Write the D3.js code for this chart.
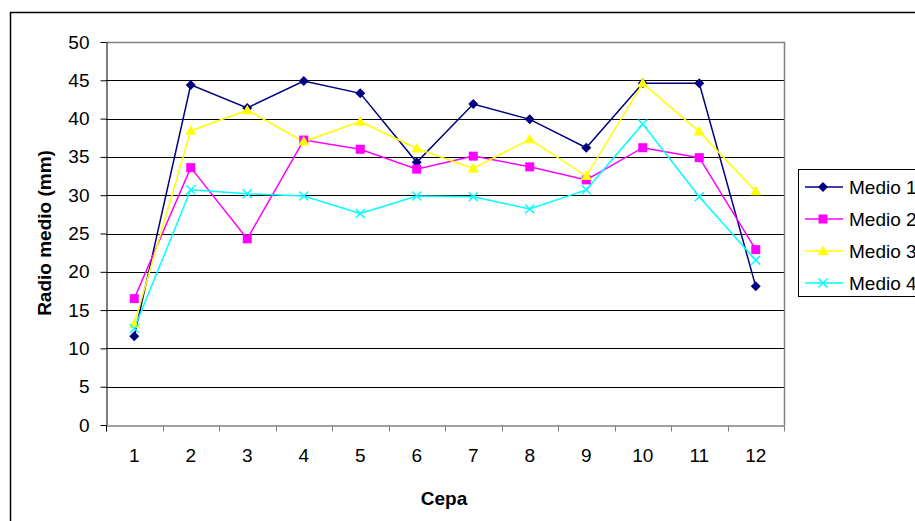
<!DOCTYPE html>
<meta charset="utf-8">
<script src="https://d3js.org/d3.v7.min.js"></script>
<style>
  body { margin: 0; background: #fff; }
  text { font-family: "Liberation Sans", Arial, sans-serif; }
</style>
<div id="chart"></div>
<script>
  // data
  var cepas = ["1","2","3","4","5","6","7","8","9","10","11","12"];
  var medio1 = [11.6, 44.4, 41.4, 44.9, 43.3, 34.3, 41.9, 39.9, 36.2, 44.6, 44.6, 18.1];
  var medio2 = [16.5, 33.6, 24.3, 37.2, 36.0, 33.4, 35.1, 33.7, 32.0, 36.2, 34.9, 22.9];
  var medio3 = [13.2, 38.4, 41.1, 37.0, 39.6, 36.1, 33.5, 37.3, 32.5, 44.6, 38.3, 30.5];
  var medio4 = [12.6, 30.7, 30.2, 29.9, 27.6, 29.9, 29.8, 28.2, 30.7, 39.3, 29.8, 21.5];
  var yTicks = [0, 5, 10, 15, 20, 25, 30, 35, 40, 45, 50];

  var series = [
    {name: "Medio 1", values: medio1, color: "#000080", symbol: "diamond"},
    {name: "Medio 2", values: medio2, color: "#ff00ff", symbol: "square"},
    {name: "Medio 3", values: medio3, color: "#ffff00", symbol: "triangle"},
    {name: "Medio 4", values: medio4, color: "#00ffff", symbol: "cross"}
  ];

  var W = 915, H = 521;
  var margin = {top: 42, left: 106},
      width = 784 - 106,
      height = 425 - 42;
  var fs = "19px";

  var svg = d3.select("#chart").append("svg")
      .attr("width", W).attr("height", H);

  // outer chart border
  svg.append("rect")
      .attr("x", 10.5).attr("y", 12.5)
      .attr("width", 920).attr("height", 520)
      .attr("fill", "none").attr("stroke", "#000").attr("stroke-width", 1.5);

  var g = svg.append("g")
      .attr("transform", "translate(" + margin.left + "," + margin.top + ")");

  var x = d3.scaleBand().domain(cepas).range([0, width]);
  var y = d3.scaleLinear().domain([0, 50]).range([height, 0]);

  // gridlines
  g.append("g").selectAll("line")
    .data(yTicks.slice(1, -1))
    .enter().append("line")
      .attr("x1", 0).attr("x2", width)
      .attr("y1", function(d) { return Math.round(y(d)) + 0.5; })
      .attr("y2", function(d) { return Math.round(y(d)) + 0.5; })
      .attr("stroke", "#000").attr("stroke-width", 1);

  // plot frame (top/right gray)
  g.append("path")
      .attr("d", "M0.5,0.5H" + (width + 0.5) + "V" + (height + 0.5))
      .attr("fill", "none").attr("stroke", "#808080").attr("stroke-width", 1.5);

  // y axis
  var yAxis = g.append("g")
      .attr("transform", "translate(0.5,0)")
      .call(d3.axisLeft(y).tickValues(yTicks).tickSize(6).tickSizeOuter(0));
  yAxis.select(".domain").attr("stroke", "#000");
  yAxis.selectAll(".tick line").attr("stroke", "#000");
  yAxis.selectAll("text")
      .attr("x", -17)
      .style("font-size", fs).attr("fill", "#000")
      .style("font-family", "Liberation Sans, Arial, sans-serif");

  // x axis, ticks between categories
  var xAxis = g.append("g")
      .attr("transform", "translate(0," + (height + 0.5) + ")")
      .call(d3.axisBottom(x).tickSize(0).tickSizeOuter(0));
  xAxis.select(".domain").attr("stroke", "#808080").attr("stroke-width", 1.5);
  xAxis.selectAll("text")
      .attr("y", 23)
      .style("font-size", fs).attr("fill", "#000")
      .style("font-family", "Liberation Sans, Arial, sans-serif");
  xAxis.selectAll(".sep")
    .data(d3.range(cepas.length + 1))
    .enter().append("line")
      .attr("class", "sep")
      .attr("x1", function(i) { return Math.round(i * x.step()) + 0.5; })
      .attr("x2", function(i) { return Math.round(i * x.step()) + 0.5; })
      .attr("y1", 0).attr("y2", 6)
      .attr("stroke", function(i) { return i === 0 ? "#000" : "#808080"; });

  // axis titles
  svg.append("text")
      .attr("x", 444).attr("y", 505)
      .attr("text-anchor", "middle")
      .style("font-size", fs).style("font-weight", "bold")
      .text("Cepa");
  svg.append("text")
      .attr("transform", "translate(51,233) rotate(-90)")
      .attr("text-anchor", "middle")
      .style("font-size", fs).style("font-weight", "bold")
      .text("Radio medio (mm)");

  var cx = function(i) { return x(cepas[i]) + x.bandwidth() / 2; };
  var line = d3.line()
      .x(function(d, i) { return cx(i); })
      .y(function(d) { return y(d); });

  function marker(sel, s) {
    if (s.symbol === "cross") {
      sel.append("path")
        .attr("d", "M-4.5,-4.5L4.5,4.5M-4.5,4.5L4.5,-4.5")
        .attr("stroke", s.color).attr("stroke-width", 1.5).attr("fill", "none");
    } else if (s.symbol === "diamond") {
      sel.append("path").attr("d", "M0,-5L5,0L0,5L-5,0Z").attr("fill", s.color);
    } else if (s.symbol === "square") {
      sel.append("rect").attr("x", -4.5).attr("y", -4.5)
        .attr("width", 9).attr("height", 9).attr("fill", s.color);
    } else {
      sel.append("path").attr("d", "M0,-5.5L5.5,4L-5.5,4Z").attr("fill", s.color);
    }
  }

  series.forEach(function(s) {
    g.append("path")
      .datum(s.values)
      .attr("d", line)
      .attr("fill", "none")
      .attr("stroke", s.color).attr("stroke-width", 1.5);
  });
  series.forEach(function(s) {
    g.append("g").selectAll("g")
      .data(s.values)
      .enter().append("g")
        .attr("transform", function(d, i) { return "translate(" + cx(i) + "," + y(d) + ")"; })
        .each(function() { marker(d3.select(this), s); });
  });

  // legend
  var leg = svg.append("g").attr("transform", "translate(798,169)");
  leg.append("rect")
      .attr("x", 0.5).attr("y", 0.5).attr("width", 140).attr("height", 127)
      .attr("fill", "#fff").attr("stroke", "#000").attr("stroke-width", 1);
  series.forEach(function(s, i) {
    var row = leg.append("g").attr("transform", "translate(0," + (18 + i * 32) + ")");
    row.append("line").attr("x1", 7).attr("x2", 45)
      .attr("stroke", s.color).attr("stroke-width", 1.5);
    marker(row.append("g").attr("transform", "translate(25,0)"), s);
    row.append("text").attr("x", 51).attr("y", 7)
      .style("font-size", fs).text(s.name);
  });
</script>
